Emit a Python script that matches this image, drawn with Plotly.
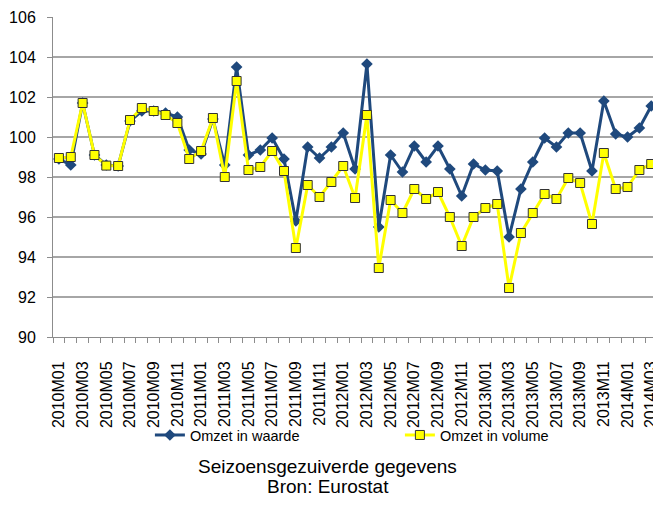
import plotly.graph_objects as go

# maanden 2010M01 .. 2014M03
months = [f"{y}M{m:02d}" for y in range(2010, 2015) for m in range(1, 13)][:51]

omzet_waarde = [
    98.9, 98.6, 101.7, 99.1, 98.6, 98.55, 100.8, 101.3, 101.3, 101.2, 101.0, 99.35,
    99.15, 100.9, 98.6, 103.5, 99.1, 99.35, 99.95, 98.9, 95.8, 99.5, 98.95, 99.5,
    100.2, 98.4, 103.65, 95.5, 99.1, 98.25, 99.55, 98.75, 99.55, 98.4, 97.05, 98.65,
    98.35, 98.3, 95.0, 97.4, 98.75, 99.95, 99.5, 100.2, 100.2, 98.3, 101.8, 100.15,
    100.0, 100.45, 101.55,
]
omzet_volume = [
    98.95, 99.0, 101.7, 99.1, 98.57, 98.55, 100.85, 101.45, 101.3, 101.1, 100.7, 98.9,
    99.3, 100.95, 98.0, 102.8, 98.35, 98.5, 99.3, 98.3, 94.45, 97.6, 97.0, 97.75,
    98.55, 96.95, 101.1, 93.45, 96.85, 96.2, 97.4, 96.9, 97.25, 96.0, 94.55, 96.0,
    96.45, 96.65, 92.45, 95.2, 96.2, 97.15, 96.9, 97.95, 97.7, 95.65, 99.2, 97.4,
    97.5, 98.35, 98.65,
]
y_ticks = [90, 92, 94, 96, 98, 100, 102, 104, 106]

x = list(range(len(months)))
font_fam = "Liberation Sans, Arial, sans-serif"

fig = go.Figure()
fig.add_trace(go.Scatter(
    x=x, y=omzet_waarde, name="Omzet in waarde", mode="lines+markers",
    line=dict(color="#1f497d", width=3), cliponaxis=False,
    marker=dict(symbol="diamond", size=9, color="#1f497d"),
))
fig.add_trace(go.Scatter(
    x=x, y=omzet_volume, name="Omzet in volume", mode="lines+markers",
    line=dict(color="#ffff00", width=3), cliponaxis=False,
    marker=dict(symbol="square", size=9, color="#ffff00",
                line=dict(color="#333333", width=1)),
))

# the page body has an 8px margin, so the figure must fit in 645x492
fig.update_layout(
    width=645, height=492,
    margin=dict(l=45, r=0, t=9, b=163, autoexpand=False),
    paper_bgcolor="white", plot_bgcolor="white",
    font=dict(family=font_fam, color="black"),
    showlegend=True,
    legend=dict(
        orientation="h", xref="container", yref="container",
        x=0.22, y=0.132, xanchor="left", yanchor="middle",
        font=dict(size=14.5), entrywidth=205,
        bgcolor="rgba(0,0,0,0)",
    ),
    xaxis=dict(
        range=[-0.5, 50.15], tickmode="array",
        tickvals=x[::2], ticktext=months[::2], tickangle=-90,
        ticks="", showgrid=False, showline=True, linecolor="#8c8c8c", linewidth=1,
        tickfont=dict(size=16), ticklabelstandoff=17, automargin=False,
        ticklabeloverflow="allow",
        minor=dict(tick0=-0.5, dtick=1, ticks="outside", ticklen=5,
                   tickcolor="#8c8c8c", showgrid=False),
        zeroline=False,
    ),
    yaxis=dict(
        range=[90, 106], tickvals=y_ticks,
        ticks="outside", ticklen=5, tickcolor="#8c8c8c",
        showgrid=True, gridcolor="#a6a6a6", gridwidth=1.5,
        showline=True, linecolor="#8c8c8c", linewidth=1,
        tickfont=dict(size=16), ticklabelstandoff=8, automargin=False,
        zeroline=False,
    ),
)

fig.add_annotation(text="Seizoensgezuiverde gegevens", xref="paper", yref="paper",
                   x=0.458, y=-0.405, showarrow=False, xanchor="center", yanchor="middle",
                   font=dict(size=19))
fig.add_annotation(text="Bron: Eurostat", xref="paper", yref="paper",
                   x=0.458, y=-0.467, showarrow=False, xanchor="center", yanchor="middle",
                   font=dict(size=19))

fig.write_html("out.html")
